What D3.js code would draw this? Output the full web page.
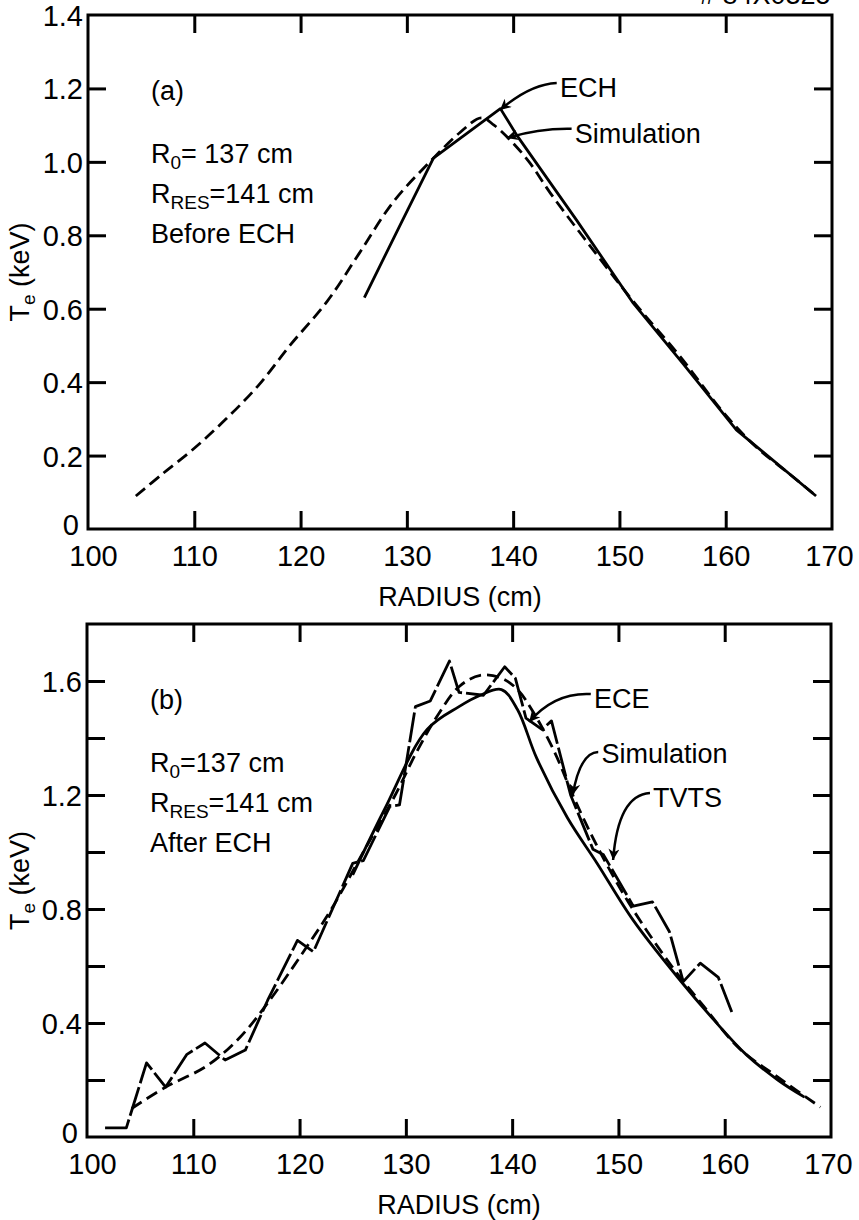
<!DOCTYPE html>
<html>
<head>
<meta charset="utf-8">
<script src="https://cdn.jsdelivr.net/npm/d3@7"></script>
<style>
  body { margin: 0; background: #fff; }
  svg { display: block; }
  .tick text { font-family: "Liberation Sans Narrow", "Liberation Sans", sans-serif; font-size: 29px; fill: #000; }
  .note { font-family: "Liberation Sans", Arial, sans-serif; font-size: 27px; fill: #000; }
</style>
</head>
<body>
<svg id="chart"></svg>
<script>
// axis ticks
const radiusTicks = [100, 110, 120, 130, 140, 150, 160, 170]
const teTicksA = [0, 0.2, 0.4, 0.6, 0.8, 1.0, 1.2, 1.4]
const teTicksB = [0, 0.2, 0.4, 0.6, 0.8, 1.0, 1.2, 1.4, 1.6]
const teLabelsB = [0, 0.4, 0.8, 1.2, 1.6]

// panel (a): before ECH  [radius cm, Te keV]
const echA = [[126, 0.63], [129.4, 0.83], [132.5, 1.01], [138.8, 1.145], [140.4, 1.07],
  [146, 0.84], [151.3, 0.615], [156, 0.45], [161, 0.27], [163.5, 0.21], [168.5, 0.09]]
const simulationA = [[104.5, 0.09], [107, 0.15], [110, 0.22], [113, 0.30], [116, 0.39],
  [119, 0.50], [122.5, 0.62], [125.5, 0.75], [128.7, 0.89], [132.5, 1.01], [135, 1.08],
  [137, 1.12], [138.2, 1.10], [139.7, 1.06], [141.5, 1.0], [143.5, 0.915], [147, 0.78],
  [151.3, 0.62], [155.7, 0.47], [160, 0.31], [163, 0.22], [166, 0.15], [168.5, 0.09]]

// panel (b): after ECH
const eceB = [[125, 0.92], [128, 1.15], [132, 1.43], [135, 1.51], [137, 1.55], [139, 1.57],
  [140.5, 1.5], [142.3, 1.33], [145.2, 1.12], [148, 0.96], [151.4, 0.76], [155.8, 0.55],
  [159, 0.41], [162, 0.29], [165, 0.2], [167.5, 0.14]]
const simulationB = [[104.2, 0.1], [107.4, 0.175], [111.3, 0.25], [114.4, 0.35], [117, 0.47],
  [120, 0.63], [123, 0.8], [126, 1.0], [129, 1.2], [131, 1.35], [133, 1.48], [135, 1.58],
  [137, 1.62], [139, 1.61], [140.5, 1.57], [142, 1.49], [144, 1.35], [145.7, 1.2],
  [148, 1.02], [151, 0.82], [155, 0.6], [158, 0.46], [161.4, 0.31], [165, 0.21], [169, 0.105]]
const tvtsB = [[101.7, 0.032], [103.7, 0.032], [105.6, 0.26], [107.4, 0.175], [109.4, 0.29],
  [111.1, 0.33], [113, 0.27], [114.9, 0.305], [117, 0.48], [119.8, 0.69], [121.3, 0.65],
  [125, 0.96], [126, 0.97], [128.5, 1.16], [129.4, 1.165], [130.9, 1.51], [132.3, 1.53],
  [134.1, 1.67], [135, 1.56], [137.3, 1.55], [139.3, 1.65], [140.3, 1.61], [141.3, 1.47],
  [142.8, 1.43], [143.7, 1.46], [145.5, 1.2], [147.6, 1.01], [148.6, 0.99], [151.4, 0.81],
  [153.2, 0.825], [154.8, 0.72], [156.1, 0.545], [157.7, 0.61], [159.4, 0.56], [160.7, 0.435]]

// labels with arrows: text position, arrow start, control, tip (data coords)
const arrowsA = [
  {text: 'ECH', at: [144.4, 1.177], path: [[144.1, 1.215], [141.6, 1.212], [138.76, 1.141]]},
  {text: 'Simulation', at: [145.8, 1.051], path: [[145.5, 1.09], [142.5, 1.092], [139.4, 1.065]]}
]
const arrowsB = [
  {text: 'ECE', at: [147.7, 1.505], path: [[147.4, 1.554], [144.0, 1.561], [141.6, 1.456]]},
  {text: 'Simulation', at: [148.4, 1.312], path: [[148.1, 1.351], [146.4, 1.35], [145.7, 1.2]]},
  {text: 'TVTS', at: [153.25, 1.158], path: [[152.97, 1.207], [149.96, 1.2], [149.5, 0.972]]}
]

const W = 859, H = 1220
const svg = d3.select('#chart').attr('width', W).attr('height', H)

svg.append('defs').append('marker')
  .attr('id', 'head')
  .attr('viewBox', '0 0 10 10')
  .attr('refX', 10).attr('refY', 5)
  .attr('markerWidth', 16).attr('markerHeight', 11)
  .attr('markerUnits', 'userSpaceOnUse')
  .attr('orient', 'auto')
  .append('path')
  .attr('d', 'M0,0 L10,5 L0,10 L3,5 Z')
  .attr('fill', '#000')

// corner reference number, cut off at the top of the page
svg.append('text').attr('class', 'note')
  .attr('x', 700).attr('y', 4)
  .attr('font-size', 24)
  .text('# 84X0325')

function fmt(d) { return d === 0 ? '0' : d3.format('.1f')(d) }

function panel(box, yMax, yTicks, yLabels, series, notes, arrows) {
  const x = d3.scaleLinear([100, 170], [box.left, box.right])
  const y = d3.scaleLinear([0, yMax], [box.bottom, box.top])
  const g = svg.append('g')
  const tick = 18

  const inner = radiusTicks.filter(d => d > 100 && d < 170)
  const innerY = yTicks.filter(d => d > 0 && d < yMax)

  // bottom axis with labels
  const bottom = g.append('g').attr('transform', `translate(0,${box.bottom})`)
    .call(d3.axisBottom(x).tickValues(radiusTicks).tickSize(-tick).tickPadding(0))
  bottom.selectAll('text').attr('y', 37).attr('dy', 0)
    .attr('dx', d => d === 100 ? 5 : d === 170 ? -3 : 0)
  bottom.selectAll('.tick line').attr('display', d => inner.includes(d) ? null : 'none')

  g.append('g').attr('transform', `translate(0,${box.top})`)
    .call(d3.axisTop(x).tickValues(inner).tickSize(-tick).tickFormat(''))

  const left = g.append('g').attr('transform', `translate(${box.left},0)`)
    .call(d3.axisLeft(y).tickValues(yTicks).tickSize(-tick).tickPadding(5)
      .tickFormat(d => yLabels.includes(d) ? fmt(d) : ''))
  left.selectAll('.tick line').attr('display', d => innerY.includes(d) ? null : 'none')
  left.selectAll('text').attr('dy', d => d === 0 ? '0.2em' : '0.36em')
    .attr('dx', d => d === 0 ? -4 : 0)

  g.append('g').attr('transform', `translate(${box.right},0)`)
    .call(d3.axisRight(y).tickValues(innerY).tickSize(-tick).tickFormat(''))

  g.selectAll('.domain').remove()
  g.selectAll('.tick line').attr('stroke', '#000').attr('stroke-width', 3)

  g.append('rect')
    .attr('x', box.left).attr('y', box.top)
    .attr('width', box.right - box.left).attr('height', box.bottom - box.top)
    .attr('fill', 'none').attr('stroke', '#000').attr('stroke-width', 3)

  // axis titles
  g.append('text').attr('class', 'note')
    .attr('x', (box.left + box.right) / 2).attr('y', box.bottom + 77)
    .attr('text-anchor', 'middle').attr('font-size', 28)
    .text('RADIUS (cm)')

  const yt = g.append('text').attr('class', 'note')
    .attr('transform', `translate(29,${(box.top + box.bottom) / 2}) rotate(-90)`)
    .attr('text-anchor', 'middle').attr('font-size', 26)
  yt.append('tspan').text('T')
  yt.append('tspan').attr('font-size', 19).attr('dy', 6).text('e')
  yt.append('tspan').attr('dy', -6).text(' (keV)')

  // curves
  series.forEach(s => {
    g.append('path')
      .datum(s.data)
      .attr('fill', 'none')
      .attr('stroke', '#000')
      .attr('stroke-width', s.width || 2.8)
      .attr('stroke-dasharray', s.dash || null)
      .attr('stroke-linejoin', 'round')
      .attr('d', d3.line().x(d => x(d[0])).y(d => y(d[1])).curve(s.curve || d3.curveLinear))
  })

  // panel notes
  const nx = box.left + 63
  const t0 = g.append('text').attr('class', 'note').attr('x', nx).attr('y', box.top + 85)
  t0.text(notes[0])
  const t1 = g.append('text').attr('class', 'note').attr('x', nx).attr('y', box.top + 148)
  t1.append('tspan').text('R')
  t1.append('tspan').attr('font-size', 19).attr('dy', 6).text('0')
  t1.append('tspan').attr('dy', -6).text(notes[1])
  const t2 = g.append('text').attr('class', 'note').attr('x', nx).attr('y', box.top + 188)
  t2.append('tspan').text('R')
  t2.append('tspan').attr('font-size', 19).attr('dy', 6).text('RES')
  t2.append('tspan').attr('dy', -6).text(notes[2])
  g.append('text').attr('class', 'note').attr('x', nx).attr('y', box.top + 228).text(notes[3])

  // labelled arrows
  arrows.forEach(a => {
    g.append('text').attr('class', 'note')
      .attr('x', x(a.at[0])).attr('y', y(a.at[1]))
      .text(a.text)
    const p = a.path.map(d => [x(d[0]), y(d[1])])
    g.append('path')
      .attr('d', `M${p[0]}Q${p[1]} ${p[2]}`)
      .attr('fill', 'none').attr('stroke', '#000').attr('stroke-width', 2.5)
      .attr('marker-end', 'url(#head)')
  })
}

panel({left: 88, right: 832, top: 15, bottom: 529}, 1.4, teTicksA, teTicksA,
  [
    {data: simulationA, dash: '12,6', curve: d3.curveCatmullRom},
    {data: echA}
  ],
  ['(a)', '= 137 cm', '=141 cm', 'Before ECH'], arrowsA)

panel({left: 87, right: 831, top: 624, bottom: 1137}, 1.8, teTicksB, teLabelsB,
  [
    {data: simulationB, dash: '12,6', curve: d3.curveCatmullRom},
    {data: eceB, curve: d3.curveCatmullRom},
    {data: tvtsB, dash: '30,4'}
  ],
  ['(b)', '=137 cm', '=141 cm', 'After ECH'], arrowsB)
</script>
</body>
</html>
